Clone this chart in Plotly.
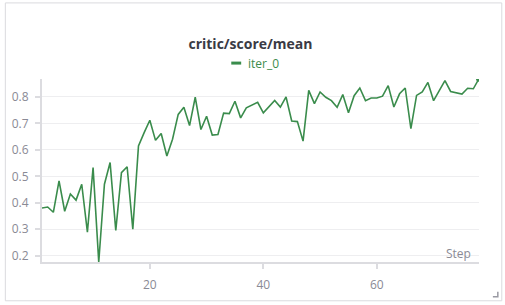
import plotly.graph_objects as go

steps = list(range(1, 79))
score_mean = [
    0.380, 0.384, 0.364, 0.483, 0.368, 0.433, 0.410, 0.470, 0.289, 0.533,
    0.176, 0.470, 0.552, 0.295, 0.514, 0.536, 0.300, 0.615, 0.665, 0.712,
    0.636, 0.662, 0.577, 0.640, 0.734, 0.761, 0.692, 0.799, 0.677, 0.727,
    0.656, 0.658, 0.739, 0.737, 0.784, 0.721, 0.759, 0.769, 0.780, 0.740,
    0.762, 0.787, 0.762, 0.800, 0.709, 0.707, 0.633, 0.825, 0.775, 0.819,
    0.799, 0.786, 0.761, 0.809, 0.740, 0.805, 0.834, 0.786, 0.796, 0.796,
    0.803, 0.843, 0.762, 0.812, 0.834, 0.680, 0.806, 0.819, 0.855, 0.786,
    0.824, 0.862, 0.821, 0.817, 0.811, 0.833, 0.831, 0.869,
]
series_name = "iter_0"
title_text = "critic/score/mean"
x_tick_vals = [20, 40, 60]
y_tick_vals = [0.2, 0.3, 0.4, 0.5, 0.6, 0.7, 0.8]

GREEN = "#3a8c4c"
FONT = "Open Sans"

fig = go.Figure()
fig.add_trace(go.Scatter(
    x=steps, y=score_mean, mode="lines", name=series_name,
    line=dict(color=GREEN, width=1.6), showlegend=False,
))
fig.add_trace(go.Scatter(
    x=[steps[-1]], y=[score_mean[-1]], mode="markers", name=series_name,
    marker=dict(color=GREEN, size=6), showlegend=False,
))

L, R, T, B = 38, 26, 79, 42
W, H = 505, 305
pw, ph = W - L - R, H - T - B

def px_x(p):
    return (p - L) / pw

def px_y(p):
    return (H - B - p) / ph

fig.update_layout(
    width=W, height=H,
    margin=dict(l=L, r=R, t=T, b=B),
    paper_bgcolor="white", plot_bgcolor="white",
    font=dict(family=FONT, size=12, color="#8a8a95"),
    title=dict(text="<b>" + title_text + "</b>", x=250.5 / W, xanchor="center",
               y=1 - 44.5 / H, yanchor="middle",
               font=dict(family=FONT, size=14, color="#3a3a44")),
    xaxis=dict(range=[1, 78], tickvals=x_tick_vals, showgrid=False,
               showline=True, linecolor="#dcdce0", linewidth=2,
               ticks="outside", ticklen=5, tickcolor="#dcdce0", tickwidth=1.5,
               ticklabelstandoff=6, zeroline=False),
    yaxis=dict(range=[0.176, 0.868], tickvals=y_tick_vals, showgrid=True,
               gridcolor="#eeeef0", gridwidth=1,
               showline=True, linecolor="#dcdce0", linewidth=2,
               ticks="outside", ticklen=5, tickcolor="#dcdce0", tickwidth=1.5,
               ticklabelstandoff=4, zeroline=False),
)

fig.add_annotation(text="Step", xref="paper", yref="paper",
                   x=px_x(473), y=px_y(254), xanchor="right", yanchor="middle",
                   showarrow=False, font=dict(family=FONT, size=12, color="#8a8a95"))

# legend drawn as line + text
fig.add_shape(type="line", xref="paper", yref="paper",
              x0=px_x(229), x1=px_x(239), y0=px_y(63), y1=px_y(63),
              line=dict(color=GREEN, width=3))
fig.add_annotation(text=series_name, xref="paper", yref="paper",
                   x=px_x(244), y=px_y(63), xanchor="left", yanchor="middle",
                   showarrow=False, font=dict(family=FONT, size=12, color=GREEN))

# card border
fig.add_shape(type="rect", xref="paper", yref="paper",
              x0=px_x(1), x1=px_x(502), y0=px_y(302), y1=px_y(2.5),
              line=dict(color="#dadade", width=1), layer="below")
fig.add_shape(type="path", xref="paper", yref="paper",
              path=f"M {px_x(498)} {px_y(293)} L {px_x(498)} {px_y(298)} L {px_x(493)} {px_y(298)}",
              line=dict(color="#9a9aa3", width=1.5))

fig.write_html("out.html", config={"displayModeBar": False},
               post_script="document.body.style.margin='0';document.body.style.padding='0';document.body.style.overflow='hidden';")
